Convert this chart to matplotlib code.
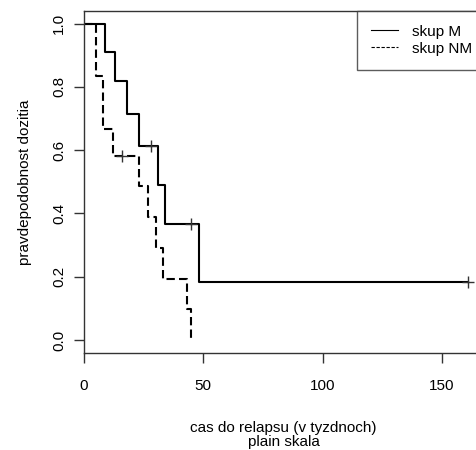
import matplotlib
matplotlib.use('Agg')
import matplotlib.pyplot as plt
from matplotlib.lines import Line2D

plt.rcParams['font.family'] = ['Liberation Sans', 'DejaVu Sans']

# Kaplan-Meier steps
time_m = [0, 9, 13, 18, 23, 31, 34, 48, 161]
surv_m = [1.0, 0.909, 0.818, 0.716, 0.614, 0.491, 0.368, 0.184, 0.184]
cens_time_m = [28, 45, 161]
cens_surv_m = [0.614, 0.368, 0.184]

time_nm = [0, 5, 8, 12, 23, 27, 30, 33, 43, 45]
surv_nm = [1.0, 0.833, 0.667, 0.583, 0.486, 0.389, 0.292, 0.194, 0.097, 0.0]
cens_time_nm = [16]
cens_surv_nm = [0.583]

labels = ['skup M', 'skup NM']
xticks = [0, 50, 100, 150]
yticks = [0.0, 0.2, 0.4, 0.6, 0.8, 1.0]

W, H = 477, 450
fig = plt.figure(figsize=(W / 100, H / 100), dpi=100)
ax = fig.add_axes([84 / W, 1 - 352.7 / H, (483.5 - 84) / W, (352.7 - 11) / H])

ax.step(time_m, surv_m, where='post', color='black', lw=1.5)
ax.step(time_nm, surv_nm, where='post', color='black', lw=1.5, dashes=(4, 2))
ax.plot(cens_time_m, cens_surv_m, ls='none', marker='+', ms=8, mew=1, color='#333333')
ax.plot(cens_time_nm, cens_surv_nm, ls='none', marker='+', ms=8, mew=1, color='#333333')

ax.set_xlim(0, 167.4)
ax.set_ylim(-0.04, 1.04)
ax.set_xticks(xticks)
ax.set_xticklabels([str(v) for v in xticks])
ax.set_yticks(yticks)
ax.set_yticklabels(['%.1f' % v for v in yticks])

for s in ax.spines.values():
    s.set_color('#333333')
    s.set_linewidth(1)
ax.tick_params(axis='x', length=7, width=1, color='#333333', pad=12, labelsize=11)
ax.tick_params(axis='y', length=7, width=1, color='#333333', pad=6, labelsize=11,
               labelrotation=90)
for t in ax.get_yticklabels():
    t.set_va('center')

ax.set_xlabel('cas do relapsu (v tyzdnoch)\nplain skala', fontsize=11, labelpad=20,
              linespacing=1.0)
ax.set_ylabel('pravdepodobnost dozitia', fontsize=11, labelpad=14)

handles = [Line2D([], [], color='black', lw=0.8),
           Line2D([], [], color='black', lw=0.8, dashes=(3, 1.5))]
fig.legend(handles, labels, loc='upper left', bbox_to_anchor=(357 / W, 1 - 11 / H),
           frameon=True, fancybox=False, edgecolor='#333333', fontsize=11,
           handlelength=1.8, handletextpad=0.9, borderpad=0.9, labelspacing=0.2,
           borderaxespad=0)

fig.savefig('out.png', dpi=100)
